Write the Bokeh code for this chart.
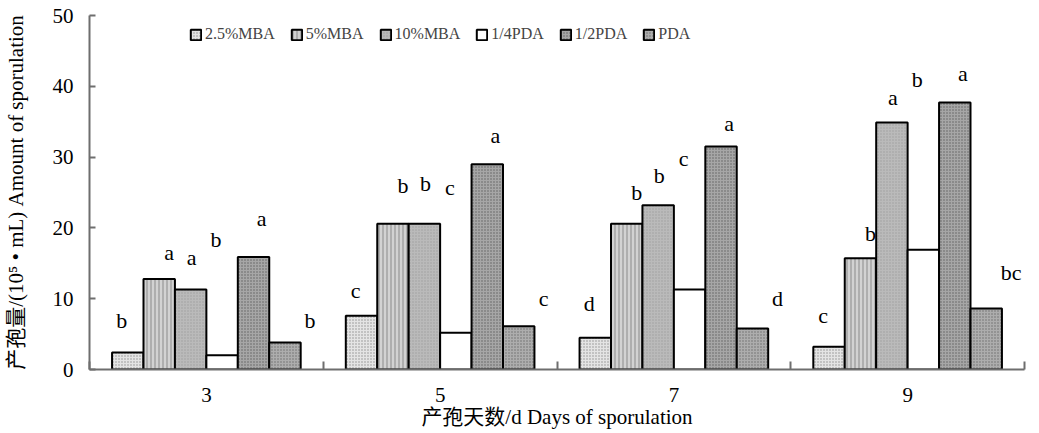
from bokeh.plotting import figure
from bokeh.models import ColumnDataSource, FixedTicker, Range1d, Legend
from bokeh.core.properties import value
from bokeh.embed import file_html
from bokeh.resources import INLINE

# ---- data ----
days = ["3", "5", "7", "9"]
series = ["2.5%MBA", "5%MBA", "10%MBA", "1/4PDA", "1/2PDA", "PDA"]
mba_2_5 = [2.4, 7.6, 4.5, 3.2]
mba_5 = [12.8, 20.6, 20.6, 15.7]
mba_10 = [11.3, 20.6, 23.2, 34.9]
pda_quarter = [2.0, 5.2, 11.3, 16.9]
pda_half = [15.9, 29.0, 31.5, 37.7]
pda_full = [3.8, 6.1, 5.8, 8.6]
values = [mba_2_5, mba_5, mba_10, pda_quarter, pda_half, pda_full]

# significance letters per series (rows) for days 3,5,7,9
letters = [
    ["b", "c", "d", "c"],
    ["a", "b", "b", "b"],
    ["a", "b", "b", "a"],
    ["b", "c", "c", "b"],
    ["a", "a", "a", "a"],
    ["b", "c", "d", "bc"],
]
# heights of letter annotations (data units)
letter_heights = [
    [6.9, 11.2, 9.3, 7.6],
    [16.5, 26.0, 25.0, 19.2],
    [15.8, 26.3, 27.4, 38.4],
    [18.4, 25.7, 29.8, 41.0],
    [21.3, 33.0, 34.7, 41.8],
    [6.9, 10.0, 10.0, 13.7],
]
y_title = "产孢量/(10⁵ • mL) Amount of sporulation"
x_title = "产孢天数/d Days of sporulation"

# ---- styles ----
styles = [
    dict(fill_color="#e4e4e4", hatch_pattern="dot", hatch_color="#8f8f8f", hatch_scale=3, hatch_weight=1),
    dict(fill_color="#d2d2d2", hatch_pattern="vertical_line", hatch_color="#8a8a8a", hatch_scale=4, hatch_weight=1),
    dict(fill_color="#bababa", hatch_pattern="dot", hatch_color="#9c9c9c", hatch_scale=3, hatch_weight=1),
    dict(fill_color="#ffffff"),
    dict(fill_color="#a6a6a6", hatch_pattern="dot", hatch_color="#5e5e5e", hatch_scale=3, hatch_weight=1),
    dict(fill_color="#adadad", hatch_pattern="dot", hatch_color="#6a6a6a", hatch_scale=3, hatch_weight=1),
]
letter_xoff = [-6, 10, 1, -6, 8, 25]
bar_w = 0.1345
serif = "'Liberation Serif', 'Noto Sans CJK SC'"

p = figure(width=1039, height=433, output_backend="svg", toolbar_location=None,
           x_range=Range1d(0, 4), y_range=Range1d(0, 50),
           min_border_left=87, min_border_right=15, min_border_top=15, min_border_bottom=64)
p.outline_line_color = None
p.xgrid.visible = False
p.ygrid.visible = False
p.background_fill_color = "white"

legend_items = []
for i, name in enumerate(series):
    xs = [g + 0.5 + (i - 2.5) * bar_w for g in range(len(days))]
    src = ColumnDataSource(dict(x=xs, top=values[i]))
    r = p.vbar(x="x", top="top", bottom=0, width=bar_w, source=src,
               line_color="black", line_width=2, **styles[i])
    legend_items.append((name, [r]))

for i, name in enumerate(series):
    xs = [g + 0.5 + (i - 2.5) * bar_w for g in range(len(days))]
    src = ColumnDataSource(dict(x=xs, y=letter_heights[i], t=letters[i]))
    p.text(x="x", y="y", text="t", source=src, x_offset=letter_xoff[i],
           text_font=value("Liberation Serif"), text_font_size="22px",
           text_align="center", text_baseline="middle", text_color="black")

legend = Legend(items=legend_items, orientation="horizontal", location=(100, 326),
                glyph_width=13, glyph_height=13, label_standoff=3, spacing=15,
                padding=0, margin=0, border_line_color=None, background_fill_alpha=0,
                label_text_font="Liberation Serif", label_text_font_size="16px")
p.add_layout(legend, "center")

# y axis
p.yaxis.ticker = FixedTicker(ticks=[0, 10, 20, 30, 40, 50])
p.yaxis.major_tick_in = 6
p.yaxis.major_tick_out = 0
p.yaxis.minor_tick_line_color = None
p.yaxis.axis_line_color = "#6e6e6e"
p.yaxis.axis_line_width = 2
p.yaxis.major_tick_line_color = "#6e6e6e"
p.yaxis.major_tick_line_width = 2
p.yaxis.major_label_text_font = "Liberation Serif"
p.yaxis.major_label_text_font_size = "21px"
p.yaxis.major_label_text_color = "black"
p.yaxis.major_label_standoff = 16
p.yaxis.axis_label = y_title
p.yaxis.axis_label_text_font = serif
p.yaxis.axis_label_text_font_size = "21px"
p.yaxis.axis_label_text_font_style = "normal"
p.yaxis.axis_label_text_color = "black"
p.yaxis.axis_label_standoff = 22

# x axis
p.xaxis.ticker = FixedTicker(ticks=[0.5, 1.5, 2.5, 3.5], minor_ticks=[0, 1, 2, 3, 4])
p.xaxis.major_label_overrides = {0.5: days[0], 1.5: days[1], 2.5: days[2], 3.5: days[3]}
p.xaxis.major_tick_line_color = None
p.xaxis.minor_tick_in = 8
p.xaxis.minor_tick_out = 0
p.xaxis.minor_tick_line_color = "#6e6e6e"
p.xaxis.minor_tick_line_width = 2
p.xaxis.axis_line_color = "#6e6e6e"
p.xaxis.axis_line_width = 2
p.xaxis.major_label_text_font = "Liberation Serif"
p.xaxis.major_label_text_font_size = "21px"
p.xaxis.major_label_text_color = "black"
p.xaxis.major_label_standoff = 12
p.xaxis.axis_label = x_title
p.xaxis.axis_label_text_font = serif
p.xaxis.axis_label_text_font_size = "21px"
p.xaxis.axis_label_text_font_style = "normal"
p.xaxis.axis_label_text_color = "black"
p.xaxis.axis_label_standoff = 0

open("out.html", "w").write(file_html(p, INLINE))
